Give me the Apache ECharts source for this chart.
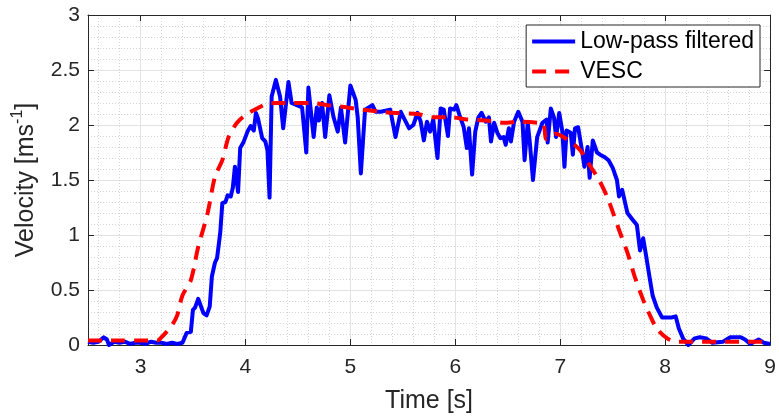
<!DOCTYPE html>
<html>
<head>
<meta charset="utf-8">
<script src="https://cdn.jsdelivr.net/npm/echarts@6/dist/echarts.min.js"></script>
<style>html,body{margin:0;padding:0;background:#fff;}#c{width:779px;height:420px;}</style>
</head>
<body>
<div id="c"></div>
<script>
// Low-pass filtered velocity
const filtT = [2.50,2.55,2.60,2.65,2.68,2.70,2.75,2.80,2.85,2.90,2.95,3.00,3.05,3.10,3.15,3.20,3.25,3.30,3.35,3.40,3.44,3.48,3.50,3.52,3.55,3.60,3.63,3.66,3.68,3.71,3.73,3.76,3.78,3.81,3.83,3.86,3.88,3.90,3.93,3.95,3.98,4.02,4.05,4.08,4.10,4.12,4.16,4.19,4.21,4.23,4.25,4.29,4.33,4.36,4.41,4.44,4.49,4.54,4.58,4.60,4.65,4.68,4.70,4.73,4.76,4.80,4.84,4.88,4.91,4.95,5.00,5.05,5.07,5.10,5.14,5.21,5.24,5.29,5.38,5.43,5.48,5.56,5.60,5.64,5.67,5.70,5.73,5.76,5.79,5.83,5.86,5.89,5.93,5.95,5.99,6.01,6.04,6.08,6.11,6.13,6.16,6.19,6.22,6.25,6.29,6.32,6.34,6.37,6.40,6.43,6.46,6.48,6.51,6.53,6.56,6.60,6.64,6.66,6.69,6.71,6.74,6.78,6.83,6.87,6.88,6.91,6.94,6.96,6.99,7.02,7.04,7.06,7.10,7.12,7.14,7.17,7.21,7.23,7.26,7.28,7.31,7.35,7.38,7.42,7.46,7.50,7.54,7.56,7.59,7.64,7.68,7.73,7.76,7.79,7.82,7.85,7.88,7.92,7.97,8.02,8.06,8.10,8.13,8.17,8.22,8.28,8.33,8.39,8.45,8.55,8.62,8.66,8.72,8.76,8.81,8.85,8.89,8.94,9.00];
const filtV = [0.03,0.02,0.03,0.07,0.05,0.00,0.03,0.02,0.03,0.01,0.02,0.02,0.01,0.03,0.02,0.02,0.01,0.02,0.01,0.02,0.11,0.12,0.32,0.34,0.42,0.29,0.27,0.35,0.62,0.75,0.79,1.02,1.29,1.30,1.36,1.35,1.43,1.62,1.39,1.79,1.84,1.94,1.99,1.95,2.11,2.06,1.88,1.85,1.77,1.34,2.26,2.41,2.26,1.97,2.39,2.20,2.18,2.16,1.75,2.34,1.89,2.16,2.04,2.20,1.89,2.27,2.07,1.94,2.16,1.84,2.36,2.23,2.07,1.56,2.14,2.18,2.12,2.12,2.14,1.89,2.12,1.97,2.00,2.11,2.03,1.86,2.03,1.94,2.05,1.70,2.15,2.14,1.90,2.15,2.14,2.18,2.09,1.98,1.79,1.97,1.55,1.94,2.07,2.11,2.03,2.07,1.85,2.02,1.93,1.88,1.89,1.82,1.97,1.85,2.03,2.12,2.03,1.68,2.02,1.84,1.50,1.89,2.02,2.05,1.84,2.15,2.07,1.89,2.11,1.94,1.62,1.95,1.93,1.73,1.97,1.98,1.75,1.62,1.80,1.52,1.86,1.75,1.73,1.71,1.68,1.61,1.50,1.35,1.41,1.20,1.15,1.09,0.86,0.97,0.80,0.62,0.45,0.34,0.25,0.25,0.25,0.26,0.15,0.06,0.00,0.06,0.07,0.06,0.02,0.03,0.07,0.07,0.07,0.05,0.01,0.03,0.05,0.02,0.01];
// VESC velocity
const vescT = [2.50,2.80,3.00,3.10,3.16,3.20,3.24,3.30,3.35,3.40,3.48,3.55,3.64,3.71,3.78,3.84,3.92,4.00,4.11,4.20,4.30,4.44,4.64,4.78,4.97,5.11,5.30,5.44,5.64,5.79,5.97,6.11,6.30,6.46,6.63,6.79,6.84,6.87,6.95,7.08,7.19,7.29,7.37,7.45,7.50,7.57,7.64,7.71,7.79,7.84,7.92,8.02,8.11,8.50,9.00];
const vescV = [0.04,0.04,0.04,0.04,0.04,0.07,0.11,0.18,0.27,0.45,0.59,0.89,1.20,1.53,1.68,1.89,2.02,2.09,2.15,2.19,2.20,2.20,2.20,2.18,2.16,2.14,2.12,2.11,2.10,2.07,2.07,2.05,2.04,2.02,2.03,2.02,2.01,1.87,1.92,1.86,1.77,1.62,1.50,1.34,1.21,1.02,0.84,0.62,0.41,0.30,0.15,0.06,0.03,0.03,0.03];
const seriesNames = ['Low-pass filtered', 'VESC'];
const xRange = [2.5, 9];
const yRange = [0, 3];
const yStep = 0.5;

const FONT = 'Liberation Sans, Arial, Helvetica, sans-serif';
const TXT = '#262626';
const pairs = (t, v) => t.map((x, i) => [x, v[i]]);

const xBase = {
  type: 'value', min: xRange[0], max: xRange[1], minInterval: 1, maxInterval: 1, splitNumber: 6
};
const chart = echarts.init(document.getElementById('c'), null, {renderer: 'canvas'});
chart.setOption({
  animation: false,
  backgroundColor: '#fff',
  grid: {left: 88, right: 8, top: 15, bottom: 75, containLabel: false},
  legend: {
    data: seriesNames,
    orient: 'vertical', right: 19, top: 25,
    itemWidth: 43, itemHeight: 14, itemGap: 7,
    padding: [5, 6, 4, 4],
    backgroundColor: '#fff', borderColor: '#262626', borderWidth: 1, borderRadius: 0,
    itemStyle: {opacity: 0},
    lineStyle: {width: 4},
    textStyle: {fontFamily: FONT, fontSize: 23, color: '#000'}
  },
  xAxis: [Object.assign({}, xBase, {
    position: 'bottom',
    name: 'Time [s]', nameLocation: 'middle', nameGap: 44,
    nameTextStyle: {fontFamily: FONT, fontSize: 25, color: TXT},
    axisLine: {show: true, onZero: false, lineStyle: {color: TXT, width: 1}},
    axisTick: {show: true, inside: true, length: 6, lineStyle: {color: TXT}},
    axisLabel: {fontFamily: FONT, fontSize: 21, color: TXT, margin: 12,
      formatter: v => (Math.abs(v - Math.round(v)) < 1e-9 ? String(Math.round(v)) : '')},
    splitLine: {show: true, lineStyle: {color: '#e3e3e3', width: 1}},
    minorTick: {show: false, splitNumber: 5},
    minorSplitLine: {show: true, lineStyle: {color: '#d4d4d4', width: 1, type: [1, 2]}}
  }), Object.assign({}, xBase, {
    position: 'top',
    axisLine: {show: true, onZero: false, lineStyle: {color: TXT, width: 1}},
    axisTick: {show: true, inside: true, length: 6, lineStyle: {color: TXT}},
    axisLabel: {show: false}, splitLine: {show: false}
  })],
  yAxis: [{
    type: 'value', min: yRange[0], max: yRange[1], interval: yStep, position: 'left',
    name: '{n|Velocity [ms}{s|-1}{n|]}', nameLocation: 'middle', nameGap: 46, nameRotate: 90,
    nameTextStyle: {fontFamily: FONT, fontSize: 25, color: TXT,
      rich: {n: {fontFamily: FONT, fontSize: 25, color: TXT},
             s: {fontFamily: FONT, fontSize: 16, color: TXT, padding: [0, 0, 16, 0]}}},
    axisLine: {show: true, onZero: false, lineStyle: {color: TXT, width: 1}},
    axisTick: {show: true, inside: true, length: 6, lineStyle: {color: TXT}},
    axisLabel: {fontFamily: FONT, fontSize: 21, color: TXT, margin: 8},
    splitLine: {show: true, lineStyle: {color: '#e3e3e3', width: 1}},
    minorTick: {show: false, splitNumber: 5},
    minorSplitLine: {show: true, lineStyle: {color: '#d4d4d4', width: 1, type: [1, 2]}}
  }, {
    type: 'value', min: yRange[0], max: yRange[1], interval: yStep, position: 'right',
    axisLine: {show: true, onZero: false, lineStyle: {color: TXT, width: 1}},
    axisTick: {show: true, inside: true, length: 6, lineStyle: {color: TXT}},
    axisLabel: {show: false}, splitLine: {show: false}
  }],
  series: [{
    name: seriesNames[0], type: 'line', xAxisIndex: 0, yAxisIndex: 0,
    data: pairs(filtT, filtV), showSymbol: false, symbol: 'none',
    lineStyle: {color: '#0000ff', width: 4, join: 'round'},
    itemStyle: {color: '#0000ff'}
  }, {
    name: seriesNames[1], type: 'line', xAxisIndex: 0, yAxisIndex: 0,
    data: pairs(vescT, vescV), showSymbol: false, symbol: 'none', smooth: 0.3,
    lineStyle: {color: '#ff0000', width: 4, type: [14, 9]},
    itemStyle: {color: '#ff0000'}
  }]
});
</script>
</body>
</html>
